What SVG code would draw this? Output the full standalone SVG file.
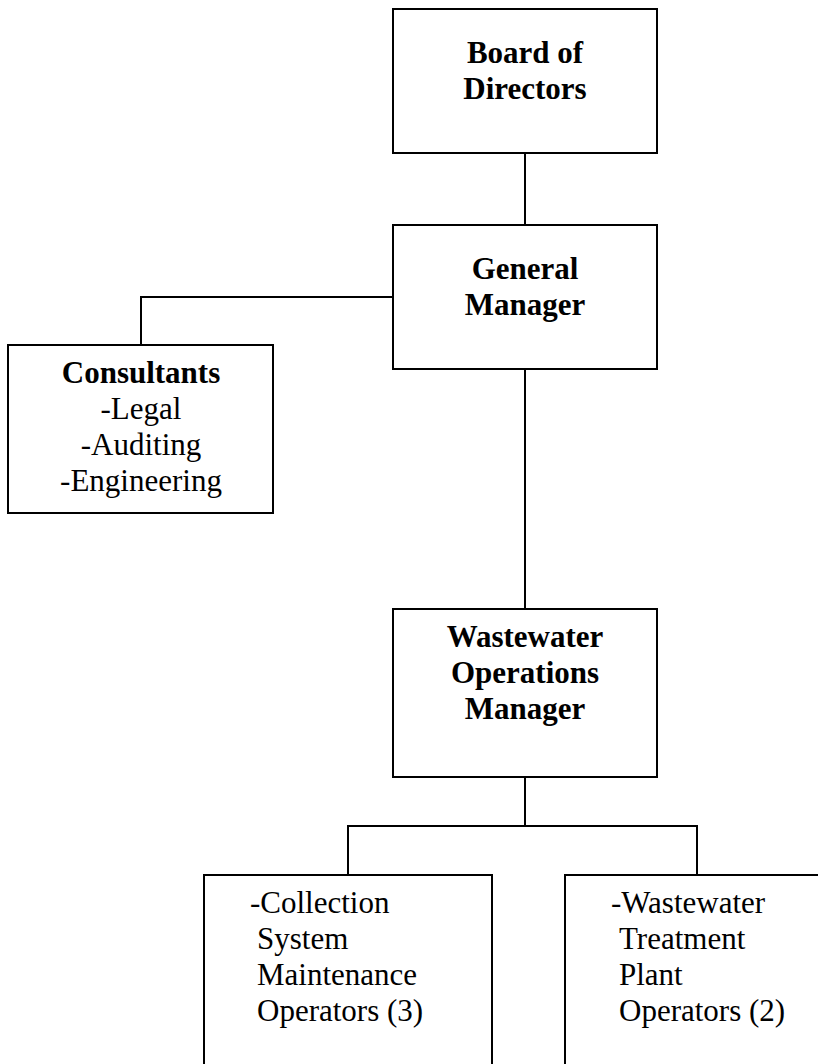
<svg xmlns="http://www.w3.org/2000/svg" width="818" height="1064" viewBox="0 0 818 1064">
<style>
.box{fill:#fff;stroke:#000;stroke-width:2}
.ln{fill:none;stroke:#000;stroke-width:2}
text{font-family:"Liberation Serif","Times New Roman",serif;font-size:31px;fill:#000}
.b{font-weight:bold}
.c{text-anchor:middle}
</style>
<rect width="818" height="1064" fill="#fff"/>
<g id="connectors">
<path class="ln" d="M525 153V225"/>
<path class="ln" d="M393 297H141V345"/>
<path class="ln" d="M525 369V609"/>
<path class="ln" d="M525 777V826M348 875V826H697V875"/>
</g>
<g id="board">
<rect class="box" x="393" y="9" width="264" height="144"/>
<text class="b c" x="525" y="63">Board of</text>
<text class="b c" x="525" y="99">Directors</text>
</g>
<g id="gm">
<rect class="box" x="393" y="225" width="264" height="144"/>
<text class="b c" x="525" y="279">General</text>
<text class="b c" x="525" y="315">Manager</text>
</g>
<g id="consultants">
<rect class="box" x="8" y="345" width="265" height="168"/>
<text class="b c" x="141" y="383">Consultants</text>
<text class="c" x="141" y="419">-Legal</text>
<text class="c" x="141" y="455">-Auditing</text>
<text class="c" x="141" y="491">-Engineering</text>
</g>
<g id="wom">
<rect class="box" x="393" y="609" width="264" height="168"/>
<text class="b c" x="525" y="647">Wastewater</text>
<text class="b c" x="525" y="683">Operations</text>
<text class="b c" x="525" y="719">Manager</text>
</g>
<g id="collection">
<rect class="box" x="204" y="875" width="288" height="200"/>
<text x="250" y="913">-Collection</text>
<text x="257" y="949">System</text>
<text x="257" y="985">Maintenance</text>
<text x="257" y="1021">Operators (3)</text>
</g>
<g id="treatment">
<rect class="box" x="565" y="875" width="260" height="200"/>
<text x="611" y="913">-Wastewater</text>
<text x="619" y="949">Treatment</text>
<text x="619" y="985">Plant</text>
<text x="619" y="1021">Operators (2)</text>
</g>
</svg>
